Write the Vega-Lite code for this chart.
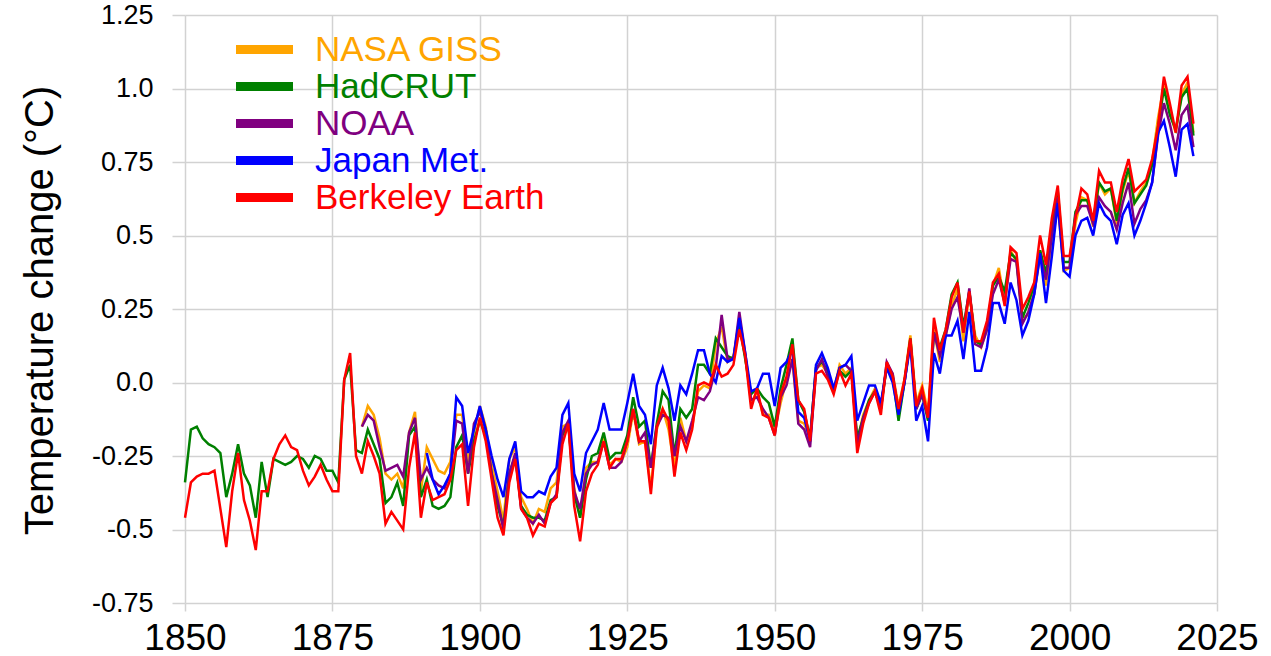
{
  "$schema": "https://vega.github.io/schema/vega-lite/v6.json",
  "width": 1032,
  "height": 588,
  "autosize": "none",
  "padding": {"left": 185, "top": 15, "right": 54, "bottom": 53},
  "background": "white",
  "config": {
    "view": {"stroke": null},
    "axis": {"domain": false, "grid": true, "gridColor": "#d2d2d2", "gridWidth": 1.5, "tickColor": "#d2d2d2", "tickWidth": 1.5, "labelColor": "#000000", "labelFont": "Liberation Sans", "labelOverlap": false, "labelFlush": false, "labelBound": false},
    "axisX": {"tickSize": 8, "labelFontSize": 37, "labelPadding": 9},
    "axisY": {"tickSize": 13, "labelFontSize": 27, "labelPadding": 19, "titleFont": "Liberation Sans", "titleFontSize": 40, "titleFontWeight": "normal", "titleColor": "#000000"}
  },
  "data": {"values": [
    {"year":1850,"giss":null,"hadcrut":-0.34,"noaa":null,"jma":null,"berkeley":-0.46},
    {"year":1851,"giss":null,"hadcrut":-0.16,"noaa":null,"jma":null,"berkeley":-0.34},
    {"year":1852,"giss":null,"hadcrut":-0.15,"noaa":null,"jma":null,"berkeley":-0.32},
    {"year":1853,"giss":null,"hadcrut":-0.19,"noaa":null,"jma":null,"berkeley":-0.31},
    {"year":1854,"giss":null,"hadcrut":-0.21,"noaa":null,"jma":null,"berkeley":-0.31},
    {"year":1855,"giss":null,"hadcrut":-0.22,"noaa":null,"jma":null,"berkeley":-0.30},
    {"year":1856,"giss":null,"hadcrut":-0.24,"noaa":null,"jma":null,"berkeley":-0.43},
    {"year":1857,"giss":null,"hadcrut":-0.39,"noaa":null,"jma":null,"berkeley":-0.56},
    {"year":1858,"giss":null,"hadcrut":-0.31,"noaa":null,"jma":null,"berkeley":-0.37},
    {"year":1859,"giss":null,"hadcrut":-0.21,"noaa":null,"jma":null,"berkeley":-0.24},
    {"year":1860,"giss":null,"hadcrut":-0.31,"noaa":null,"jma":null,"berkeley":-0.40},
    {"year":1861,"giss":null,"hadcrut":-0.35,"noaa":null,"jma":null,"berkeley":-0.47},
    {"year":1862,"giss":null,"hadcrut":-0.46,"noaa":null,"jma":null,"berkeley":-0.57},
    {"year":1863,"giss":null,"hadcrut":-0.27,"noaa":null,"jma":null,"berkeley":-0.37},
    {"year":1864,"giss":null,"hadcrut":-0.39,"noaa":null,"jma":null,"berkeley":-0.37},
    {"year":1865,"giss":null,"hadcrut":-0.26,"noaa":null,"jma":null,"berkeley":-0.26},
    {"year":1866,"giss":null,"hadcrut":-0.27,"noaa":null,"jma":null,"berkeley":-0.21},
    {"year":1867,"giss":null,"hadcrut":-0.28,"noaa":null,"jma":null,"berkeley":-0.18},
    {"year":1868,"giss":null,"hadcrut":-0.27,"noaa":null,"jma":null,"berkeley":-0.22},
    {"year":1869,"giss":null,"hadcrut":-0.25,"noaa":null,"jma":null,"berkeley":-0.23},
    {"year":1870,"giss":null,"hadcrut":-0.26,"noaa":null,"jma":null,"berkeley":-0.30},
    {"year":1871,"giss":null,"hadcrut":-0.29,"noaa":null,"jma":null,"berkeley":-0.35},
    {"year":1872,"giss":null,"hadcrut":-0.25,"noaa":null,"jma":null,"berkeley":-0.32},
    {"year":1873,"giss":null,"hadcrut":-0.26,"noaa":null,"jma":null,"berkeley":-0.28},
    {"year":1874,"giss":null,"hadcrut":-0.30,"noaa":null,"jma":null,"berkeley":-0.33},
    {"year":1875,"giss":null,"hadcrut":-0.30,"noaa":null,"jma":null,"berkeley":-0.37},
    {"year":1876,"giss":null,"hadcrut":-0.34,"noaa":null,"jma":null,"berkeley":-0.37},
    {"year":1877,"giss":null,"hadcrut":0.01,"noaa":null,"jma":null,"berkeley":0.01},
    {"year":1878,"giss":null,"hadcrut":0.06,"noaa":null,"jma":null,"berkeley":0.10},
    {"year":1879,"giss":null,"hadcrut":-0.23,"noaa":null,"jma":null,"berkeley":-0.25},
    {"year":1880,"giss":-0.15,"hadcrut":-0.24,"noaa":-0.15,"jma":null,"berkeley":-0.31},
    {"year":1881,"giss":-0.08,"hadcrut":-0.16,"noaa":-0.11,"jma":null,"berkeley":-0.20},
    {"year":1882,"giss":-0.11,"hadcrut":-0.21,"noaa":-0.13,"jma":null,"berkeley":-0.25},
    {"year":1883,"giss":-0.19,"hadcrut":-0.26,"noaa":-0.22,"jma":null,"berkeley":-0.31},
    {"year":1884,"giss":-0.31,"hadcrut":-0.41,"noaa":-0.30,"jma":null,"berkeley":-0.48},
    {"year":1885,"giss":-0.33,"hadcrut":-0.39,"noaa":-0.29,"jma":null,"berkeley":-0.44},
    {"year":1886,"giss":-0.31,"hadcrut":-0.34,"noaa":-0.28,"jma":null,"berkeley":-0.47},
    {"year":1887,"giss":-0.36,"hadcrut":-0.42,"noaa":-0.32,"jma":null,"berkeley":-0.50},
    {"year":1888,"giss":-0.17,"hadcrut":-0.18,"noaa":-0.17,"jma":null,"berkeley":-0.29},
    {"year":1889,"giss":-0.10,"hadcrut":-0.15,"noaa":-0.12,"jma":null,"berkeley":-0.17},
    {"year":1890,"giss":-0.37,"hadcrut":-0.39,"noaa":-0.33,"jma":null,"berkeley":-0.46},
    {"year":1891,"giss":-0.22,"hadcrut":-0.33,"noaa":-0.29,"jma":-0.24,"berkeley":-0.34},
    {"year":1892,"giss":-0.26,"hadcrut":-0.42,"noaa":-0.33,"jma":-0.33,"berkeley":-0.40},
    {"year":1893,"giss":-0.30,"hadcrut":-0.43,"noaa":-0.35,"jma":-0.38,"berkeley":-0.39},
    {"year":1894,"giss":-0.31,"hadcrut":-0.42,"noaa":-0.36,"jma":-0.35,"berkeley":-0.38},
    {"year":1895,"giss":-0.27,"hadcrut":-0.39,"noaa":-0.31,"jma":-0.31,"berkeley":-0.33},
    {"year":1896,"giss":-0.11,"hadcrut":-0.22,"noaa":-0.13,"jma":-0.05,"berkeley":-0.23},
    {"year":1897,"giss":-0.11,"hadcrut":-0.18,"noaa":-0.14,"jma":-0.08,"berkeley":-0.21},
    {"year":1898,"giss":-0.27,"hadcrut":-0.31,"noaa":-0.31,"jma":-0.24,"berkeley":-0.42},
    {"year":1899,"giss":-0.17,"hadcrut":-0.20,"noaa":-0.14,"jma":-0.16,"berkeley":-0.22},
    {"year":1900,"giss":-0.08,"hadcrut":-0.13,"noaa":-0.10,"jma":-0.08,"berkeley":-0.12},
    {"year":1901,"giss":-0.15,"hadcrut":-0.18,"noaa":-0.16,"jma":-0.16,"berkeley":-0.20},
    {"year":1902,"giss":-0.28,"hadcrut":-0.31,"noaa":-0.31,"jma":-0.25,"berkeley":-0.33},
    {"year":1903,"giss":-0.37,"hadcrut":-0.42,"noaa":-0.40,"jma":-0.33,"berkeley":-0.46},
    {"year":1904,"giss":-0.47,"hadcrut":-0.49,"noaa":-0.50,"jma":-0.39,"berkeley":-0.52},
    {"year":1905,"giss":-0.26,"hadcrut":-0.31,"noaa":-0.31,"jma":-0.26,"berkeley":-0.34},
    {"year":1906,"giss":-0.22,"hadcrut":-0.25,"noaa":-0.24,"jma":-0.20,"berkeley":-0.26},
    {"year":1907,"giss":-0.39,"hadcrut":-0.42,"noaa":-0.43,"jma":-0.37,"berkeley":-0.43},
    {"year":1908,"giss":-0.43,"hadcrut":-0.45,"noaa":-0.46,"jma":-0.39,"berkeley":-0.46},
    {"year":1909,"giss":-0.48,"hadcrut":-0.46,"noaa":-0.48,"jma":-0.39,"berkeley":-0.52},
    {"year":1910,"giss":-0.43,"hadcrut":-0.46,"noaa":-0.45,"jma":-0.37,"berkeley":-0.48},
    {"year":1911,"giss":-0.44,"hadcrut":-0.47,"noaa":-0.48,"jma":-0.38,"berkeley":-0.49},
    {"year":1912,"giss":-0.36,"hadcrut":-0.40,"noaa":-0.41,"jma":-0.32,"berkeley":-0.41},
    {"year":1913,"giss":-0.34,"hadcrut":-0.39,"noaa":-0.38,"jma":-0.29,"berkeley":-0.39},
    {"year":1914,"giss":-0.15,"hadcrut":-0.18,"noaa":-0.17,"jma":-0.11,"berkeley":-0.21},
    {"year":1915,"giss":-0.14,"hadcrut":-0.14,"noaa":-0.13,"jma":-0.07,"berkeley":-0.14},
    {"year":1916,"giss":-0.36,"hadcrut":-0.38,"noaa":-0.37,"jma":-0.31,"berkeley":-0.42},
    {"year":1917,"giss":-0.46,"hadcrut":-0.46,"noaa":-0.43,"jma":-0.37,"berkeley":-0.54},
    {"year":1918,"giss":-0.29,"hadcrut":-0.33,"noaa":-0.31,"jma":-0.24,"berkeley":-0.37},
    {"year":1919,"giss":-0.27,"hadcrut":-0.25,"noaa":-0.28,"jma":-0.20,"berkeley":-0.31},
    {"year":1920,"giss":-0.27,"hadcrut":-0.24,"noaa":-0.27,"jma":-0.16,"berkeley":-0.28},
    {"year":1921,"giss":-0.19,"hadcrut":-0.17,"noaa":-0.20,"jma":-0.07,"berkeley":-0.20},
    {"year":1922,"giss":-0.28,"hadcrut":-0.26,"noaa":-0.29,"jma":-0.16,"berkeley":-0.29},
    {"year":1923,"giss":-0.26,"hadcrut":-0.24,"noaa":-0.29,"jma":-0.16,"berkeley":-0.26},
    {"year":1924,"giss":-0.27,"hadcrut":-0.24,"noaa":-0.27,"jma":-0.16,"berkeley":-0.26},
    {"year":1925,"giss":-0.22,"hadcrut":-0.18,"noaa":-0.20,"jma":-0.07,"berkeley":-0.20},
    {"year":1926,"giss":-0.10,"hadcrut":-0.05,"noaa":-0.09,"jma":0.03,"berkeley":-0.09},
    {"year":1927,"giss":-0.21,"hadcrut":-0.15,"noaa":-0.20,"jma":-0.08,"berkeley":-0.20},
    {"year":1928,"giss":-0.20,"hadcrut":-0.13,"noaa":-0.17,"jma":-0.11,"berkeley":-0.20},
    {"year":1929,"giss":-0.36,"hadcrut":-0.29,"noaa":-0.29,"jma":-0.21,"berkeley":-0.38},
    {"year":1930,"giss":-0.16,"hadcrut":-0.14,"noaa":-0.15,"jma":-0.01,"berkeley":-0.15},
    {"year":1931,"giss":-0.09,"hadcrut":-0.03,"noaa":-0.11,"jma":0.05,"berkeley":-0.09},
    {"year":1932,"giss":-0.16,"hadcrut":-0.06,"noaa":-0.12,"jma":-0.02,"berkeley":-0.13},
    {"year":1933,"giss":-0.29,"hadcrut":-0.25,"noaa":-0.25,"jma":-0.13,"berkeley":-0.32},
    {"year":1934,"giss":-0.12,"hadcrut":-0.09,"noaa":-0.15,"jma":-0.01,"berkeley":-0.17},
    {"year":1935,"giss":-0.20,"hadcrut":-0.12,"noaa":-0.20,"jma":-0.04,"berkeley":-0.23},
    {"year":1936,"giss":-0.15,"hadcrut":-0.09,"noaa":-0.13,"jma":0.03,"berkeley":-0.16},
    {"year":1937,"giss":-0.03,"hadcrut":0.06,"noaa":-0.05,"jma":0.11,"berkeley":-0.01},
    {"year":1938,"giss":-0.01,"hadcrut":0.06,"noaa":-0.06,"jma":0.11,"berkeley":0.00},
    {"year":1939,"giss":-0.02,"hadcrut":0.03,"noaa":-0.03,"jma":0.03,"berkeley":-0.01},
    {"year":1940,"giss":0.13,"hadcrut":0.15,"noaa":0.05,"jma":0.00,"berkeley":0.06},
    {"year":1941,"giss":0.19,"hadcrut":0.12,"noaa":0.23,"jma":0.09,"berkeley":0.02},
    {"year":1942,"giss":0.07,"hadcrut":0.09,"noaa":0.08,"jma":0.07,"berkeley":0.03},
    {"year":1943,"giss":0.09,"hadcrut":0.08,"noaa":0.08,"jma":0.08,"berkeley":0.06},
    {"year":1944,"giss":0.20,"hadcrut":0.20,"noaa":0.24,"jma":0.22,"berkeley":0.18},
    {"year":1945,"giss":0.09,"hadcrut":0.08,"noaa":0.10,"jma":0.10,"berkeley":0.09},
    {"year":1946,"giss":-0.07,"hadcrut":-0.04,"noaa":-0.06,"jma":-0.03,"berkeley":-0.09},
    {"year":1947,"giss":-0.03,"hadcrut":-0.02,"noaa":-0.05,"jma":-0.02,"berkeley":-0.02},
    {"year":1948,"giss":-0.11,"hadcrut":-0.05,"noaa":-0.09,"jma":0.03,"berkeley":-0.11},
    {"year":1949,"giss":-0.11,"hadcrut":-0.07,"noaa":-0.12,"jma":0.03,"berkeley":-0.12},
    {"year":1950,"giss":-0.17,"hadcrut":-0.15,"noaa":-0.18,"jma":-0.08,"berkeley":-0.18},
    {"year":1951,"giss":-0.07,"hadcrut":-0.02,"noaa":-0.05,"jma":0.05,"berkeley":-0.04},
    {"year":1952,"giss":0.01,"hadcrut":0.06,"noaa":-0.01,"jma":0.07,"berkeley":0.02},
    {"year":1953,"giss":0.08,"hadcrut":0.15,"noaa":0.08,"jma":0.11,"berkeley":0.13},
    {"year":1954,"giss":-0.13,"hadcrut":-0.06,"noaa":-0.14,"jma":-0.10,"berkeley":-0.06},
    {"year":1955,"giss":-0.14,"hadcrut":-0.10,"noaa":-0.16,"jma":-0.12,"berkeley":-0.09},
    {"year":1956,"giss":-0.19,"hadcrut":-0.19,"noaa":-0.22,"jma":-0.20,"berkeley":-0.20},
    {"year":1957,"giss":0.05,"hadcrut":0.05,"noaa":0.04,"jma":0.06,"berkeley":0.03},
    {"year":1958,"giss":0.06,"hadcrut":0.07,"noaa":0.08,"jma":0.10,"berkeley":0.04},
    {"year":1959,"giss":0.03,"hadcrut":0.04,"noaa":0.02,"jma":0.05,"berkeley":0.01},
    {"year":1960,"giss":-0.03,"hadcrut":-0.03,"noaa":-0.03,"jma":-0.02,"berkeley":-0.04},
    {"year":1961,"giss":0.06,"hadcrut":0.04,"noaa":0.05,"jma":0.05,"berkeley":0.04},
    {"year":1962,"giss":0.03,"hadcrut":0.02,"noaa":0.06,"jma":0.06,"berkeley":-0.01},
    {"year":1963,"giss":0.05,"hadcrut":0.04,"noaa":0.04,"jma":0.09,"berkeley":0.03},
    {"year":1964,"giss":-0.20,"hadcrut":-0.19,"noaa":-0.21,"jma":-0.13,"berkeley":-0.24},
    {"year":1965,"giss":-0.11,"hadcrut":-0.12,"noaa":-0.12,"jma":-0.07,"berkeley":-0.14},
    {"year":1966,"giss":-0.06,"hadcrut":-0.06,"noaa":-0.07,"jma":-0.01,"berkeley":-0.07},
    {"year":1967,"giss":-0.02,"hadcrut":-0.03,"noaa":-0.03,"jma":-0.01,"berkeley":-0.03},
    {"year":1968,"giss":-0.08,"hadcrut":-0.09,"noaa":-0.09,"jma":-0.07,"berkeley":-0.11},
    {"year":1969,"giss":0.05,"hadcrut":0.06,"noaa":0.07,"jma":0.05,"berkeley":0.07},
    {"year":1970,"giss":0.03,"hadcrut":0.02,"noaa":0.03,"jma":0.00,"berkeley":0.02},
    {"year":1971,"giss":-0.08,"hadcrut":-0.13,"noaa":-0.10,"jma":-0.11,"berkeley":-0.09},
    {"year":1972,"giss":0.01,"hadcrut":0.00,"noaa":0.00,"jma":0.00,"berkeley":0.01},
    {"year":1973,"giss":0.16,"hadcrut":0.15,"noaa":0.14,"jma":0.13,"berkeley":0.15},
    {"year":1974,"giss":-0.07,"hadcrut":-0.09,"noaa":-0.09,"jma":-0.13,"berkeley":-0.08},
    {"year":1975,"giss":-0.01,"hadcrut":-0.04,"noaa":-0.04,"jma":-0.08,"berkeley":-0.02},
    {"year":1976,"giss":-0.10,"hadcrut":-0.13,"noaa":-0.12,"jma":-0.20,"berkeley":-0.12},
    {"year":1977,"giss":0.18,"hadcrut":0.17,"noaa":0.17,"jma":0.10,"berkeley":0.22},
    {"year":1978,"giss":0.07,"hadcrut":0.12,"noaa":0.09,"jma":0.03,"berkeley":0.11},
    {"year":1979,"giss":0.16,"hadcrut":0.18,"noaa":0.16,"jma":0.16,"berkeley":0.18},
    {"year":1980,"giss":0.26,"hadcrut":0.30,"noaa":0.25,"jma":0.16,"berkeley":0.29},
    {"year":1981,"giss":0.32,"hadcrut":0.34,"noaa":0.29,"jma":0.21,"berkeley":0.34},
    {"year":1982,"giss":0.14,"hadcrut":0.19,"noaa":0.17,"jma":0.08,"berkeley":0.17},
    {"year":1983,"giss":0.31,"hadcrut":0.31,"noaa":0.32,"jma":0.24,"berkeley":0.31},
    {"year":1984,"giss":0.16,"hadcrut":0.14,"noaa":0.13,"jma":0.04,"berkeley":0.14},
    {"year":1985,"giss":0.12,"hadcrut":0.13,"noaa":0.12,"jma":0.04,"berkeley":0.14},
    {"year":1986,"giss":0.18,"hadcrut":0.19,"noaa":0.18,"jma":0.12,"berkeley":0.21},
    {"year":1987,"giss":0.33,"hadcrut":0.33,"noaa":0.30,"jma":0.27,"berkeley":0.34},
    {"year":1988,"giss":0.39,"hadcrut":0.36,"noaa":0.35,"jma":0.27,"berkeley":0.37},
    {"year":1989,"giss":0.27,"hadcrut":0.31,"noaa":0.27,"jma":0.20,"berkeley":0.26},
    {"year":1990,"giss":0.45,"hadcrut":0.44,"noaa":0.42,"jma":0.34,"berkeley":0.46},
    {"year":1991,"giss":0.41,"hadcrut":0.42,"noaa":0.41,"jma":0.28,"berkeley":0.44},
    {"year":1992,"giss":0.22,"hadcrut":0.22,"noaa":0.20,"jma":0.16,"berkeley":0.25},
    {"year":1993,"giss":0.23,"hadcrut":0.27,"noaa":0.24,"jma":0.21,"berkeley":0.29},
    {"year":1994,"giss":0.31,"hadcrut":0.33,"noaa":0.30,"jma":0.30,"berkeley":0.34},
    {"year":1995,"giss":0.45,"hadcrut":0.45,"noaa":0.43,"jma":0.44,"berkeley":0.50},
    {"year":1996,"giss":0.33,"hadcrut":0.37,"noaa":0.35,"jma":0.27,"berkeley":0.40},
    {"year":1997,"giss":0.46,"hadcrut":0.53,"noaa":0.50,"jma":0.43,"berkeley":0.56},
    {"year":1998,"giss":0.61,"hadcrut":0.65,"noaa":0.63,"jma":0.61,"berkeley":0.67},
    {"year":1999,"giss":0.38,"hadcrut":0.41,"noaa":0.39,"jma":0.38,"berkeley":0.43},
    {"year":2000,"giss":0.39,"hadcrut":0.41,"noaa":0.39,"jma":0.36,"berkeley":0.43},
    {"year":2001,"giss":0.54,"hadcrut":0.58,"noaa":0.57,"jma":0.50,"berkeley":0.56},
    {"year":2002,"giss":0.63,"hadcrut":0.62,"noaa":0.60,"jma":0.55,"berkeley":0.66},
    {"year":2003,"giss":0.62,"hadcrut":0.62,"noaa":0.60,"jma":0.56,"berkeley":0.64},
    {"year":2004,"giss":0.53,"hadcrut":0.55,"noaa":0.54,"jma":0.50,"berkeley":0.55},
    {"year":2005,"giss":0.68,"hadcrut":0.68,"noaa":0.63,"jma":0.61,"berkeley":0.72},
    {"year":2006,"giss":0.64,"hadcrut":0.65,"noaa":0.60,"jma":0.57,"berkeley":0.68},
    {"year":2007,"giss":0.66,"hadcrut":0.66,"noaa":0.58,"jma":0.55,"berkeley":0.68},
    {"year":2008,"giss":0.54,"hadcrut":0.55,"noaa":0.52,"jma":0.47,"berkeley":0.58},
    {"year":2009,"giss":0.65,"hadcrut":0.66,"noaa":0.61,"jma":0.57,"berkeley":0.69},
    {"year":2010,"giss":0.72,"hadcrut":0.73,"noaa":0.68,"jma":0.61,"berkeley":0.76},
    {"year":2011,"giss":0.61,"hadcrut":0.61,"noaa":0.54,"jma":0.50,"berkeley":0.65},
    {"year":2012,"giss":0.65,"hadcrut":0.64,"noaa":0.59,"jma":0.55,"berkeley":0.67},
    {"year":2013,"giss":0.68,"hadcrut":0.67,"noaa":0.62,"jma":0.61,"berkeley":0.69},
    {"year":2014,"giss":0.75,"hadcrut":0.74,"noaa":0.68,"jma":0.68,"berkeley":0.76},
    {"year":2015,"giss":0.90,"hadcrut":0.87,"noaa":0.84,"jma":0.85,"berkeley":0.87},
    {"year":2016,"giss":1.01,"hadcrut":1.00,"noaa":0.95,"jma":0.89,"berkeley":1.04},
    {"year":2017,"giss":0.92,"hadcrut":0.91,"noaa":0.88,"jma":0.80,"berkeley":0.95},
    {"year":2018,"giss":0.85,"hadcrut":0.86,"noaa":0.79,"jma":0.70,"berkeley":0.85},
    {"year":2019,"giss":0.98,"hadcrut":0.97,"noaa":0.91,"jma":0.86,"berkeley":1.01},
    {"year":2020,"giss":1.02,"hadcrut":1.00,"noaa":0.94,"jma":0.88,"berkeley":1.04},
    {"year":2021,"giss":0.85,"hadcrut":0.84,"noaa":0.80,"jma":0.77,"berkeley":0.88}
  ]},
  "encoding": {
    "x": {"field": "year", "type": "quantitative", "scale": {"domain": [1850, 2025], "nice": false, "zero": false},
      "axis": {"values": [1850, 1875, 1900, 1925, 1950, 1975, 2000, 2025], "format": "d", "title": null}}
  },
  "layer": [
    {"mark": {"type": "line", "strokeWidth": 2.5},
     "encoding": {
       "y": {"field": "giss", "type": "quantitative", "title": "Temperature change (°C)", "scale": {"domain": [-0.75, 1.25], "nice": false, "zero": false},
         "axis": {"values": [-0.75, -0.5, -0.25, 0, 0.25, 0.5, 0.75, 1, 1.25], "labelExpr": "datum.value == 0 ? '0.0' : datum.value == 1 ? '1.0' : (datum.value < 0 ? '-' : '') + format(abs(datum.value), '.2~f')", "titleX": -145, "titleY": 295, "titleBaseline": "middle", "titleAngle": 270}},
       "color": {"datum": "NASA GISS", "type": "nominal",
         "scale": {"domain": ["NASA GISS", "HadCRUT", "NOAA", "Japan Met.", "Berkeley Earth"], "range": ["#FFA500", "#008000", "#800080", "#0000FF", "#FF0000"]},
         "legend": {"orient": "none", "legendX": 62, "legendY": 17, "title": null, "symbolType": "M-2.85,0L2.85,0", "symbolSize": 400, "symbolStrokeWidth": 9, "labelFont": "Liberation Sans", "labelFontSize": 35, "labelOffset": 33, "rowPadding": 0, "padding": 0, "labelLimit": 500,
           "encode": {"labels": {"update": {"fill": {"scale": "color", "field": "value"}}}}}}
     }},
    {"mark": {"type": "line", "strokeWidth": 2.5},
     "encoding": {
       "y": {"field": "hadcrut", "type": "quantitative", "title": "Temperature change (°C)"},
       "color": {"datum": "HadCRUT", "type": "nominal"}
     }},
    {"mark": {"type": "line", "strokeWidth": 2.5},
     "encoding": {
       "y": {"field": "noaa", "type": "quantitative", "title": "Temperature change (°C)"},
       "color": {"datum": "NOAA", "type": "nominal"}
     }},
    {"mark": {"type": "line", "strokeWidth": 2.5},
     "encoding": {
       "y": {"field": "jma", "type": "quantitative", "title": "Temperature change (°C)"},
       "color": {"datum": "Japan Met.", "type": "nominal"}
     }},
    {"mark": {"type": "line", "strokeWidth": 2.5},
     "encoding": {
       "y": {"field": "berkeley", "type": "quantitative", "title": "Temperature change (°C)"},
       "color": {"datum": "Berkeley Earth", "type": "nominal"}
     }}
  ]
}
